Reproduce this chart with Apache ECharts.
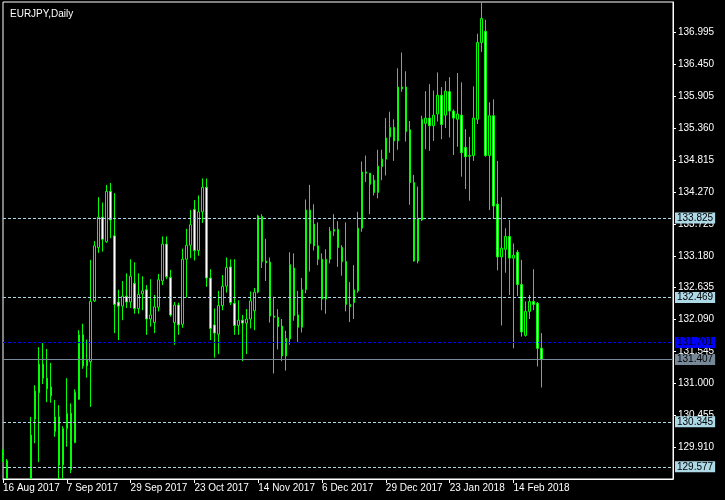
<!DOCTYPE html>
<html><head><meta charset="utf-8">
<script src="https://cdn.jsdelivr.net/npm/echarts@6/dist/echarts.min.js"></script>
<style>html,body{margin:0;padding:0;background:#000;}#c{width:725px;height:500px;}</style>
</head><body><div id="c"></div>
<script>
const dates = [
'16 Aug 2017','17 Aug 2017','18 Aug 2017','21 Aug 2017','22 Aug 2017','23 Aug 2017','24 Aug 2017','25 Aug 2017','28 Aug 2017','29 Aug 2017','30 Aug 2017','31 Aug 2017',
'1 Sep 2017','4 Sep 2017','5 Sep 2017','6 Sep 2017','7 Sep 2017','8 Sep 2017','11 Sep 2017','12 Sep 2017','13 Sep 2017','14 Sep 2017','15 Sep 2017','18 Sep 2017','19 Sep 2017','20 Sep 2017','21 Sep 2017','22 Sep 2017','25 Sep 2017','26 Sep 2017','27 Sep 2017','28 Sep 2017','29 Sep 2017',
'2 Oct 2017','3 Oct 2017','4 Oct 2017','5 Oct 2017','6 Oct 2017','9 Oct 2017','10 Oct 2017','11 Oct 2017','12 Oct 2017','13 Oct 2017','16 Oct 2017','17 Oct 2017','18 Oct 2017','19 Oct 2017','20 Oct 2017','23 Oct 2017','24 Oct 2017','25 Oct 2017','26 Oct 2017','27 Oct 2017','30 Oct 2017','31 Oct 2017',
'1 Nov 2017','2 Nov 2017','3 Nov 2017','6 Nov 2017','7 Nov 2017','8 Nov 2017','9 Nov 2017','10 Nov 2017','13 Nov 2017','14 Nov 2017','15 Nov 2017','16 Nov 2017','17 Nov 2017','20 Nov 2017','21 Nov 2017','22 Nov 2017','23 Nov 2017','24 Nov 2017','27 Nov 2017','28 Nov 2017','29 Nov 2017','30 Nov 2017',
'1 Dec 2017','4 Dec 2017','5 Dec 2017','6 Dec 2017','7 Dec 2017','8 Dec 2017','11 Dec 2017','12 Dec 2017','13 Dec 2017','14 Dec 2017','15 Dec 2017','18 Dec 2017','19 Dec 2017','20 Dec 2017','21 Dec 2017','22 Dec 2017','26 Dec 2017','27 Dec 2017','28 Dec 2017','29 Dec 2017',
'2 Jan 2018','3 Jan 2018','4 Jan 2018','5 Jan 2018','8 Jan 2018','9 Jan 2018','10 Jan 2018','11 Jan 2018','12 Jan 2018','15 Jan 2018','16 Jan 2018','17 Jan 2018','18 Jan 2018','19 Jan 2018','22 Jan 2018','23 Jan 2018','24 Jan 2018','25 Jan 2018','26 Jan 2018','29 Jan 2018','30 Jan 2018','31 Jan 2018',
'1 Feb 2018','2 Feb 2018','5 Feb 2018','6 Feb 2018','7 Feb 2018','8 Feb 2018','9 Feb 2018','12 Feb 2018','13 Feb 2018','14 Feb 2018','15 Feb 2018','16 Feb 2018','19 Feb 2018','20 Feb 2018','21 Feb 2018','22 Feb 2018','23 Feb 2018'
];
const opens = [
129.80,129.68,129.20,129.05,129.15,128.95,129.10,129.00,130.39,130.84,131.33,131.09,130.94,130.18,130.43,129.61,130.23,130.49,129.99,130.73,
131.83,131.30,131.37,132.41,133.32,133.84,133.42,134.28,133.52,132.39,132.32,132.49,132.39,132.71,132.28,132.53,132.60,132.10,132.04,132.30,
132.75,133.38,132.81,132.04,132.34,132.01,133.12,133.36,133.97,133.27,133.93,134.35,132.80,132.00,131.84,132.33,132.66,132.99,132.37,131.99,
132.08,132.03,132.10,132.24,132.56,133.85,133.09,133.07,132.15,132.13,131.98,131.47,131.76,132.97,132.17,131.96,132.60,133.96,133.72,133.35,
133.12,132.44,133.12,133.60,133.63,133.32,133.08,132.35,132.38,132.58,133.65,134.61,134.59,134.47,134.26,134.70,134.83,135.21,135.37,135.14,
136.06,136.06,135.33,134.43,133.09,133.79,135.44,135.53,135.40,135.60,135.92,135.58,135.98,135.65,135.51,135.58,135.03,134.89,134.89,135.51,
136.82,137.01,134.89,135.57,134.06,133.16,133.29,133.51,133.14,133.24,132.69,131.82,132.23,132.40,132.37,131.60
];
const closes = [
129.78,129.20,129.10,129.15,128.95,129.10,129.00,130.12,130.87,131.33,131.09,130.91,130.79,130.43,129.61,130.23,130.49,129.53,130.85,131.83,
131.30,131.41,132.40,133.35,133.84,133.46,134.28,133.79,132.35,132.32,132.49,132.39,132.83,132.28,132.52,132.58,132.10,132.17,132.31,132.77,
133.38,132.82,132.17,132.34,132.00,133.12,133.36,133.71,133.27,133.93,134.35,132.80,131.94,131.86,132.33,132.66,132.98,132.38,131.99,132.08,
132.03,132.10,132.41,132.56,133.86,133.08,133.06,132.15,132.13,131.97,131.47,131.77,133.03,132.16,131.96,132.60,133.96,133.39,133.35,133.12,
132.44,133.12,133.60,133.63,133.32,133.08,132.35,132.31,132.60,133.65,134.61,134.59,134.40,134.26,134.71,134.83,135.19,135.37,135.14,136.06,
136.03,135.30,134.43,133.09,133.82,135.51,135.53,135.40,135.58,135.92,135.42,135.99,135.65,135.53,135.60,134.94,134.87,134.88,135.53,136.82,
137.23,134.89,135.57,134.03,133.16,133.31,133.51,133.14,133.19,132.69,131.88,132.23,132.40,132.35,131.60,131.407
];
const lows = [
129.66,129.10,128.95,128.90,128.80,128.85,128.90,128.95,129.98,129.66,130.99,130.68,130.67,130.09,129.36,129.36,129.92,129.47,129.98,130.72,
131.25,131.10,130.60,132.39,133.23,133.25,133.40,133.48,131.86,131.74,132.08,132.29,132.29,132.19,132.19,132.25,131.83,131.97,131.86,132.23,
132.68,132.78,132.14,131.66,131.83,131.95,132.47,133.14,133.10,133.18,133.74,132.65,131.74,131.44,131.50,132.25,132.55,132.34,131.83,131.83,
131.38,131.50,131.94,131.91,132.54,132.97,132.75,132.04,131.17,131.58,131.38,131.22,131.66,132.07,131.71,131.87,132.54,132.91,133.27,133.02,
132.25,132.19,133.05,133.52,132.99,132.84,132.23,132.05,132.10,132.55,133.59,134.44,133.89,134.21,134.16,134.47,134.55,134.94,134.80,134.99,
135.98,135.13,134.05,133.08,133.05,133.77,135.00,134.97,135.14,135.47,135.17,135.36,135.20,134.90,135.04,134.53,134.32,134.12,134.80,135.43,
136.66,134.87,133.96,133.82,132.93,131.99,132.89,132.51,131.60,132.49,131.80,131.80,132.10,132.25,131.29,130.93
];
const highs = [
129.88,129.71,129.30,129.30,129.25,129.30,129.30,130.43,130.97,131.62,131.69,131.59,131.35,130.72,130.63,130.27,131.09,130.66,130.90,131.91,
132.02,131.75,133.11,133.43,134.18,134.09,134.39,134.42,134.25,132.60,132.75,132.88,133.12,133.07,132.88,132.83,132.68,132.78,132.51,132.87,
133.51,133.51,132.94,132.39,132.38,133.30,133.64,133.96,134.13,134.21,134.50,134.50,132.95,132.28,132.58,132.85,133.15,133.12,133.12,132.42,
132.17,132.27,132.57,132.63,133.88,133.89,133.47,133.15,132.48,132.27,132.10,131.90,133.24,133.22,132.58,132.80,134.14,134.39,134.06,133.75,
133.22,133.29,133.67,133.89,133.77,133.36,133.75,132.73,133.02,133.93,134.79,134.89,134.59,134.56,134.99,134.99,135.53,135.64,135.51,136.38,
136.65,136.33,135.48,134.56,134.36,135.57,135.99,136.11,136.00,136.31,136.06,136.16,136.23,135.68,136.30,136.14,135.34,135.21,136.07,136.97,
137.50,137.21,135.80,135.85,134.80,134.18,133.65,133.79,133.39,133.28,133.11,132.40,132.51,132.95,132.39,131.86
];
const yTicks = [129.910,130.455,131.000,131.545,132.090,132.635,133.180,133.725,134.270,134.815,135.360,135.905,136.450,136.995];
const levelLines = [133.825,132.469,130.345,129.577];
const askLine = 131.701;
const bidLine = 131.407;
const yMin = 129.369, yMax = 137.512;
const emptySlots = 33;

const FONT = "'Liberation Sans', Arial, sans-serif";
const xCats = dates.concat(new Array(emptySlots).fill(''));
const candleData = opens.map((o, i) => [o, closes[i], lows[i], highs[i]]);
const showIdx = (idx, val) => idx % 16 === 0 && val !== '';

function lineItem(v, color, type, bg, txt) {
  return {
    yAxis: v,
    lineStyle: { color: color, type: type, width: 1 },
    label: { backgroundColor: bg, color: txt }
  };
}
const mlData = levelLines.map(v => lineItem(v, '#add8e6', [3, 2], '#add8e6', '#000'));
mlData.push(lineItem(askLine, '#0000ff', [3, 2], '#0000ff', '#000'));
mlData.push(lineItem(bidLine, '#778899', 'solid', '#778899', '#000'));

const chart = echarts.init(document.getElementById('c'), null, { renderer: 'canvas' });
chart.setOption({
  backgroundColor: '#000',
  animation: false,
  title: {
    text: 'EURJPY,Daily', left: 5, top: 4,
    textStyle: { color: '#fff', fontSize: 10, fontWeight: 'normal', fontFamily: FONT }
  },
  graphic: [{
    type: 'rect', left: 0, top: 480, z: 5, silent: true,
    shape: { width: 725, height: 20 }, style: { fill: '#000' }
  }],
  grid: { left: 2, right: 52, top: 2, bottom: 21, show: true, borderColor: '#fff', borderWidth: 1, backgroundColor: 'transparent' },
  xAxis: {
    type: 'category', data: xCats, boundaryGap: false, z: 10,
    axisLine: { lineStyle: { color: '#fff', width: 1 } },
    axisTick: { show: true, interval: showIdx, length: 4, lineStyle: { color: '#fff' } },
    axisLabel: { interval: showIdx, color: '#fff', fontSize: 10, fontFamily: FONT, align: 'left', margin: 4 },
    splitLine: { show: false }
  },
  yAxis: {
    type: 'value', position: 'right', min: yMin, max: yMax, scale: true, z: 10,
    axisLine: { show: true, lineStyle: { color: '#fff', width: 1 } },
    axisTick: { show: true, length: 3, customValues: yTicks, lineStyle: { color: '#fff' } },
    axisLabel: { color: '#fff', fontSize: 10, fontFamily: FONT, margin: 5, customValues: yTicks, formatter: v => v.toFixed(3) },
    splitLine: { show: false }
  },
  series: [{
    type: 'candlestick',
    data: candleData,
    clip: true,
    barWidth: 2,
    itemStyle: { color: '#000', color0: '#fff', borderColor: '#00ff00', borderColor0: '#00ff00', borderWidth: 1 },
    markLine: {
      silent: true, symbol: ['none', 'none'], animation: false, precision: 3, z: 20,
      label: {
        show: true, position: 'end', distance: 2, fontSize: 10, fontFamily: FONT,
        padding: [1, 2, 0, 2], lineHeight: 10,
        formatter: p => Number(p.value).toFixed(3)
      },
      data: mlData
    }
  }]
});
</script>
</body></html>
